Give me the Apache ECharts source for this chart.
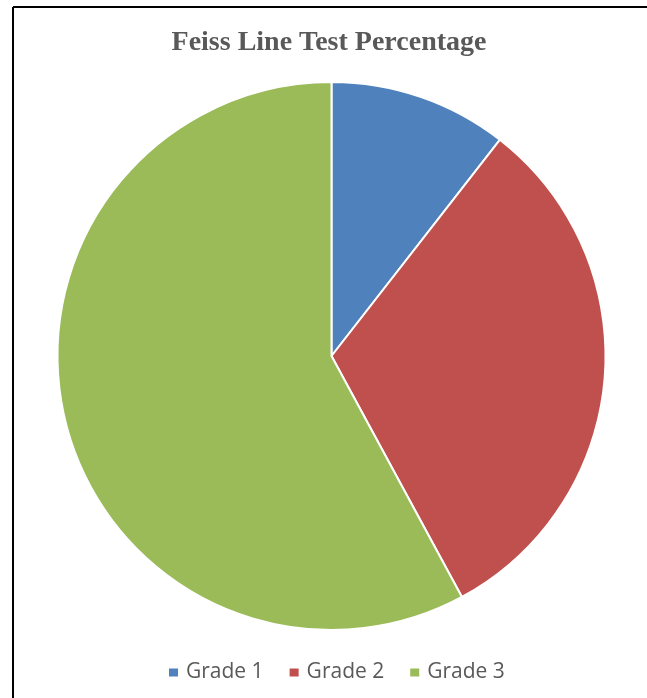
<!DOCTYPE html>
<html>
<head>
<meta charset="utf-8">
<script src="https://cdn.jsdelivr.net/npm/echarts@6/dist/echarts.min.js"></script>
<style>
html,body{margin:0;padding:0;background:#fff;}
#chart{width:647px;height:698px;}
</style>
</head>
<body>
<div id="chart"></div>
<script>
const titleText = 'Feiss Line Test Percentage';
const categories = ['Grade 1', 'Grade 2', 'Grade 3'];
const values = [10, 30, 55];
const colors = ['#4F81BD', '#C0504D', '#9BBB59'];

const chart = echarts.init(document.getElementById('chart'), null, {renderer: 'canvas'});
chart.setOption({
  backgroundColor: '#ffffff',
  animation: false,
  color: colors,
  title: {
    text: titleText,
    left: 324,
    textAlign: 'center',
    top: 24,
    textStyle: {
      fontFamily: 'Liberation Serif',
      fontWeight: 'bold',
      fontSize: 28,
      color: '#595959'
    }
  },
  legend: {
    data: categories,
    left: 162,
    top: 657,
    icon: 'rect',
    itemWidth: 11,
    itemHeight: 10,
    itemGap: 24,
    textStyle: {
      fontFamily: 'Open Sans',
      fontSize: 21,
      color: '#595959',
      padding: [0, 0, 0, 2]
    }
  },
  graphic: [
    {type: 'line', shape: {x1: 13, y1: 7, x2: 647, y2: 7}, style: {stroke: '#000', lineWidth: 2}, z: 100},
    {type: 'line', shape: {x1: 13, y1: 7, x2: 13, y2: 698}, style: {stroke: '#000', lineWidth: 2}, z: 100}
  ],
  series: [{
    type: 'pie',
    center: [331.5, 356],
    radius: 274,
    startAngle: 90,
    clockwise: true,
    label: {show: false},
    labelLine: {show: false},
    emphasis: {disabled: true},
    itemStyle: {borderColor: '#ffffff', borderWidth: 2},
    data: categories.map((c, i) => ({name: c, value: values[i]}))
  }]
});
</script>
</body>
</html>
